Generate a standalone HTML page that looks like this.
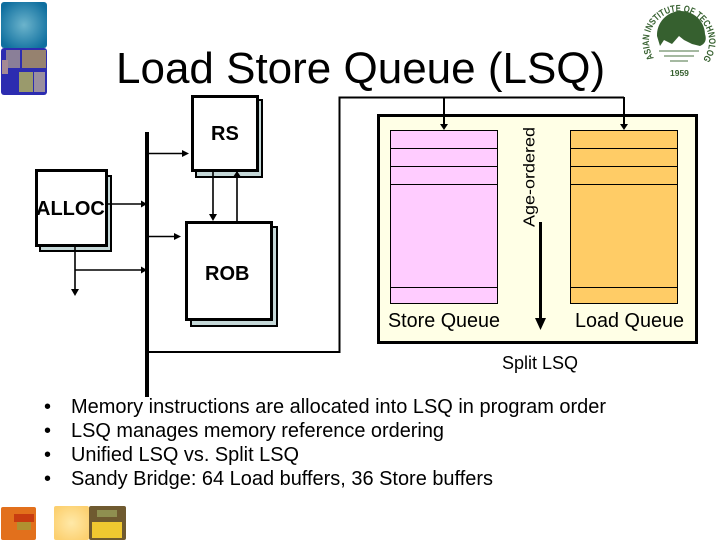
<!DOCTYPE html>
<html><head><meta charset="utf-8"><style>
html,body{margin:0;padding:0;background:#fff;width:720px;height:540px;overflow:hidden}
svg{display:block}
text{font-family:"Liberation Sans",sans-serif;fill:#000}
</style></head><body>
<svg width="720" height="540" viewBox="0 0 720 540" xmlns="http://www.w3.org/2000/svg">
<defs>
<radialGradient id="blue" cx="50%" cy="50%" r="60%"><stop offset="0" stop-color="#6cb4cc"/><stop offset="1" stop-color="#0f6f9f"/></radialGradient>
<radialGradient id="yel" cx="50%" cy="50%" r="60%"><stop offset="0" stop-color="#ffe9a8"/><stop offset="1" stop-color="#fcd070"/></radialGradient>
<path id="ring" d="M654 58 A30 30 0 1 1 704 58" fill="none"/>
</defs>
<!-- top-left tiles -->
<rect x="1" y="2" width="46" height="46" rx="3" fill="url(#blue)"/>
<rect x="1" y="48" width="46" height="47" rx="3" fill="#2c2cb0"/>
<rect x="6" y="50" width="14" height="18" fill="#8a7f98"/>
<rect x="22" y="50" width="24" height="18" fill="#96826f"/>
<rect x="19" y="72" width="14" height="20" fill="#9a9a6c"/>
<rect x="34" y="72" width="11" height="20" fill="#9a8f9f"/>
<rect x="2" y="60" width="6" height="14" fill="#a58a95"/>
<!-- logo -->
<path d="M657 36 A24 24 0 0 1 705 34 C707 40 705 44 700 46 L692 44 L684 40 L679 36 L672 44 L664 40 L660 46 Z" fill="#36602f"/>
<path d="M659 51H699M664 56H694M670 61H688" stroke="#6f8f69" stroke-width="1.200"/>
<text font-size="9.500" font-weight="bold" style="fill:#36602f"><textPath href="#ring" textLength="136" lengthAdjust="spacingAndGlyphs">ASIAN INSTITUTE OF TECHNOLOGY</textPath></text>
<text x="670" y="76" font-size="8.500" font-weight="bold" style="fill:#36602f">1959</text>
<!-- title -->
<text x="116" y="83" font-size="44">Load Store Queue (LSQ)</text>
<!-- Queue panel -->
<rect x="378.500" y="115.500" width="318" height="227" fill="#ffffe6" stroke="#000" stroke-width="3"/>
<rect x="390.500" y="130.500" width="107" height="173" fill="#ffccff" stroke="#000"/>
<path d="M390 148.500H498M390 166.500H498M390 184.500H498M390 287.500H498" stroke="#000"/>
<rect x="570.500" y="130.500" width="107" height="173" fill="#ffcc66" stroke="#000"/>
<path d="M570 148.500H678M570 166.500H678M570 184.500H678M570 287.500H678" stroke="#000"/>
<text x="388" y="327" font-size="20" textLength="112" lengthAdjust="spacingAndGlyphs">Store Queue</text>
<text x="575" y="327" font-size="20" textLength="109" lengthAdjust="spacingAndGlyphs">Load Queue</text>
<text transform="translate(534.500,227) rotate(-90)" font-size="15.500" textLength="100" lengthAdjust="spacingAndGlyphs">Age-ordered</text>
<rect x="539" y="222" width="3" height="98" fill="#000"/>
<path d="M535 318H546L540.500 330Z" fill="#000"/>
<!-- feed lines -->
<path d="M149 352H339.500V97.500H624M444 97V125M624 97V125" fill="none" stroke="#000" stroke-width="2"/>
<path d="M440 124H448L444 130ZM620 124H628L624 130Z" fill="#000"/>
<!-- boxes -->
<rect x="196" y="100" width="66" height="77" fill="#c5d8d8" stroke="#000" stroke-width="2"/>
<rect x="192.500" y="96.500" width="65" height="74" fill="#fff" stroke="#000" stroke-width="3"/>
<rect x="40" y="176" width="71" height="75" fill="#c5d8d8" stroke="#000" stroke-width="2"/>
<rect x="36.500" y="170.500" width="70" height="75" fill="#fff" stroke="#000" stroke-width="3"/>
<rect x="191" y="227" width="86" height="99" fill="#c5d8d8" stroke="#000" stroke-width="2"/>
<rect x="186.500" y="222.500" width="85" height="97" fill="#fff" stroke="#000" stroke-width="3"/>
<text x="211" y="140" font-size="20" font-weight="bold">RS</text>
<text x="36" y="215" font-size="20" font-weight="bold">ALLOC</text>
<text x="205" y="280" font-size="20" font-weight="bold">ROB</text>
<!-- bus -->
<rect x="145" y="132" width="4" height="265" fill="#000"/>
<!-- arrows -->
<path d="M149 153.500H184M107 204H143M149 236.500H176M75 246V292M75 270H143M213 171V215M237 171V222" fill="none" stroke="#000" stroke-width="1.600"/>
<path d="M182 150L189 153.500L182 157ZM174 233L181 236.500L174 240ZM141 200.500L147 204L141 207.500ZM141 266.500L147 270L141 273.500ZM71 289H79L75 296ZM209 214H217L213 221ZM233 177H241L237 171Z" fill="#000"/>
<!-- split LSQ -->
<text x="502" y="369" font-size="18" textLength="76" lengthAdjust="spacingAndGlyphs">Split LSQ</text>
<!-- bullets -->
<g font-size="20">
<text x="44" y="413">•</text><text x="71" y="413" textLength="535" lengthAdjust="spacingAndGlyphs">Memory instructions are allocated into LSQ in program order</text>
<text x="44" y="437">•</text><text x="71" y="437" textLength="373" lengthAdjust="spacingAndGlyphs">LSQ manages memory reference ordering</text>
<text x="44" y="461">•</text><text x="71" y="461" textLength="228" lengthAdjust="spacingAndGlyphs">Unified LSQ vs. Split LSQ</text>
<text x="44" y="485">•</text><text x="71" y="485" textLength="422" lengthAdjust="spacingAndGlyphs">Sandy Bridge: 64 Load buffers, 36 Store buffers</text>
</g>
<!-- bottom tiles -->
<rect x="1" y="507" width="35" height="33" rx="2" fill="#e2701c"/>
<rect x="14" y="514" width="20" height="8" fill="#c83c10"/>
<rect x="17" y="522" width="14" height="8" fill="#b09030"/>
<rect x="54" y="506" width="35" height="34" rx="2" fill="url(#yel)"/>
<rect x="89" y="506" width="37" height="34" rx="2" fill="#6f5a30"/>
<rect x="92" y="522" width="30" height="16" fill="#f0c830"/>
<rect x="97" y="510" width="20" height="7" fill="#8f8f50"/>
</svg>
</body></html>
